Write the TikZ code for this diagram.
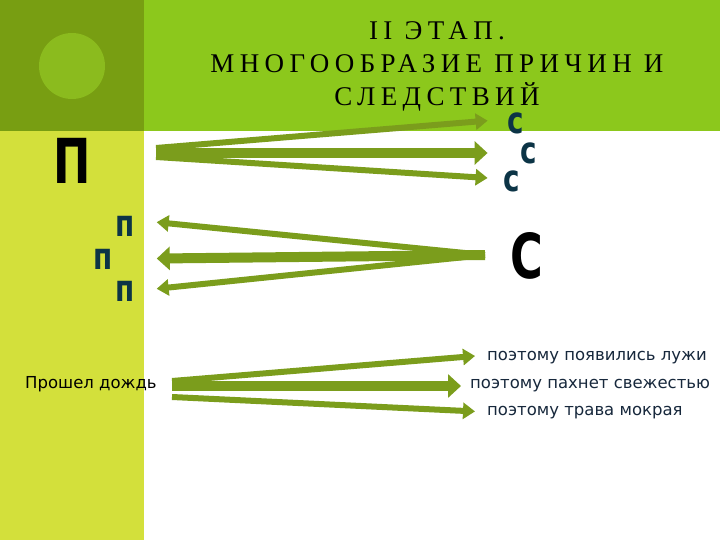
\documentclass[tikz,border=0pt]{standalone}
\usepackage{fontspec}
\usetikzlibrary{arrows.meta}
\setmainfont{DejaVu Sans}
\newfontfamily\titlefont[LetterSpace=20]{Liberation Serif}
\newfontfamily\markfont[FakeStretch=0.75]{DejaVu Sans}
\newfontfamily\bigfont[FakeStretch=0.72]{DejaVu Sans}
\definecolor{olivedark}{HTML}{789E12}
\definecolor{bandgreen}{HTML}{8CC81C}
\definecolor{circlegreen}{HTML}{8BBB1E}
\definecolor{stripyellow}{HTML}{D3E03B}
\definecolor{arrowgreen}{HTML}{7B9D1C}
\definecolor{textnavy}{HTML}{17283C}
\definecolor{markblue}{HTML}{0C3446}

\begin{document}
\begin{tikzpicture}[x=1pt,y=-1pt]
  \tikzstyle{conn}=[draw=arrowgreen,line width=6pt,-{Triangle[width=16pt,length=12pt]}]
  \tikzstyle{connthick}=[draw=arrowgreen,line width=10pt,-{Triangle[width=23pt,length=13pt]}]
  \tikzstyle{letter}=[text=markblue,inner sep=0pt,font=\markfont\bfseries\fontsize{37}{37}\selectfont]
  \tikzstyle{big}=[text=black,inner sep=0pt,font=\bigfont\bfseries\fontsize{62}{62}\selectfont]
  \tikzstyle{plain}=[text=textnavy,inner sep=0pt,anchor=west,font=\fontsize{16.5}{16.5}\selectfont]
  \tikzstyle{head}=[text=black,inner sep=0pt,anchor=base,font=\titlefont\fontsize{27}{27}\selectfont]

  % background
  \fill[white] (0,0) rectangle (720,540);
  \fill[stripyellow] (0,0) rectangle (144,540);
  \fill[olivedark] (0,0) rectangle (144,131);
  \fill[bandgreen] (144,0) rectangle (720,131);
  \fill[circlegreen] (72,66) circle (33pt);

  % title
  \node[head] (title1) at (437,40) {II ЭТАП.};
  \node[head] (title2) at (437,73) {МНОГООБРАЗИЕ ПРИЧИН И};
  \node[head] (title3) at (437,106) {СЛЕДСТВИЙ};

  % one cause, many effects
  \node[big] (P) at (72,161) {П};
  \coordinate (p1) at (156,148);
  \coordinate (p2) at (156,153);
  \coordinate (p3) at (156,157);
  \node[letter] (c1) at (516,123) {с};
  \node[letter] (c2) at (529,153) {с};
  \node[letter] (c3) at (512,181) {с};

  \path (p1) edge[conn,shorten >=20pt] ([yshift=4pt]c1.west);
  \path (p2) edge[connthick,shorten >=33pt] (c2.west);
  \path (p3) edge[conn,shorten >=16pt] ([yshift=2pt]c3.west);

  % many causes, one effect
  \node[big] (C) at (527,256) {С};
  \coordinate (s) at (485,255);
  \node[letter] (n1) at (125,226) {п};
  \node[letter] (n2) at (103,259) {п};
  \node[letter] (n3) at (125,291) {п};

  \path (s) edge[conn,shorten >=22pt] ([yshift=6pt]n1.east);
  \path (s) edge[connthick,shorten >=44pt] (n2.east);
  \path (s) edge[conn,shorten >=22pt] (n3.east);

  % example
  \node[plain,text=black] (rain) at (25,384) {Прошел дождь};
  \coordinate (r1) at (172,381);
  \coordinate (r2) at (172,386);
  \coordinate (r3) at (172,397);
  \node[plain] (e1) at (487,358) {поэтому появились лужи};
  \node[plain] (e2) at (470,386) {поэтому пахнет свежестью};
  \node[plain] (e3) at (487,413) {поэтому трава мокрая};

  \path (r1) edge[conn,shorten >=12pt] ([yshift=3pt]e1.west);
  \path (r2) edge[connthick,shorten >=9pt] (e2.west);
  \path (r3) edge[conn,shorten >=12pt] ([yshift=1pt]e3.west);
\end{tikzpicture}
\end{document}
